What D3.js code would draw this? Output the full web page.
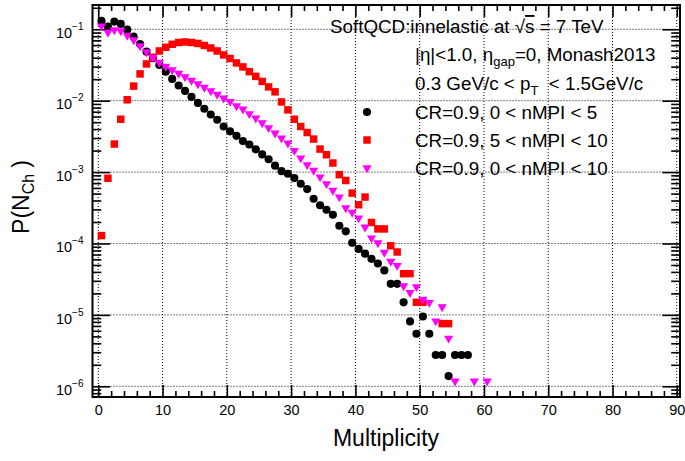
<!DOCTYPE html>
<html><head><meta charset="utf-8">
<script src="https://cdn.jsdelivr.net/npm/d3@7"></script>
<style>
body{margin:0;background:#fff}
svg{display:block}
text{font-family:"Liberation Sans",Arial,Helvetica,sans-serif;fill:#000}
</style>
</head><body>
<svg id="c" width="685" height="461"></svg>
<script>
// ---- data ----
const multiplicity = [0.5,1.5,2.5,3.5,4.5,5.5,6.5,7.5,8.5,9.5,10.5,11.5,12.5,13.5,14.5,15.5,16.5,17.5,18.5,19.5,
  20.5,21.5,22.5,23.5,24.5,25.5,26.5,27.5,28.5,29.5,30.5,31.5,32.5,33.5,34.5,35.5,36.5,37.5,38.5,39.5,
  40.5,41.5,42.5,43.5,44.5,45.5,46.5,47.5,48.5,49.5,50.5,51.5,52.5,53.5,54.5,55.5,56.5,57.5,58.5,59.5,60.5];

const seriesNames = ["CR=0.9, 0 < nMPI < 5","CR=0.9, 5 < nMPI < 10","CR=0.9, 0 < nMPI < 10"];

const pLow = [0.131,0.109,0.128,0.119,0.0988,0.0788,0.0623,0.0486,0.0393,0.0317,
  0.0255,0.0202,0.0163,0.0137,0.0113,0.0093,0.0077,0.0064,0.0054,0.00435,
  0.00372,0.00322,0.00272,0.00243,0.00208,0.00177,0.00151,0.00123,0.00103,0.000946,
  0.000824,0.000686,0.000578,0.000423,0.000343,0.000297,0.000253,0.000177,0.000148,0.000102,
  8.4e-5,7.2e-5,6.1e-5,5.25e-5,4.2e-5,2.72e-5,2.72e-5,1.5e-5,8.1e-6,5.44e-6,
  9.5e-6,5.44e-6,2.74e-6,2.74e-6,1.39e-6,2.74e-6,2.74e-6,2.74e-6];

const pMid = [1.29e-4,8.2e-4,2.47e-3,5.5e-3,0.0103,0.016,0.0237,0.0327,0.0406,0.0497,
  0.056,0.0617,0.0653,0.0664,0.0653,0.0633,0.0593,0.0547,0.0497,0.0437,
  0.039,0.0338,0.0297,0.0255,0.0219,0.0186,0.0156,0.0133,0.0096,0.00743,
  0.0055,0.00435,0.00358,0.0029,0.0021,0.00175,0.00134,0.00092,0.000763,0.000508,
  0.000349,0.000447,0.000197,0.00016,0.00016,9.3e-5,7.6e-5,3.78e-5,3.78e-5,1.5e-5,
  1.5e-5,null,null,7.55e-6,7.55e-6];

const pAll = [0.111,0.0902,0.0978,0.0947,0.0819,0.0709,0.0584,0.0481,0.0403,0.0343,
  0.0302,0.027,0.0241,0.0215,0.0192,0.0172,0.01535,0.0137,0.01225,0.01084,
  0.00971,0.00846,0.0076,0.00654,0.00569,0.00489,0.00417,0.00351,0.00299,0.00254,
  0.002005,0.00157,0.001265,0.001053,0.000851,0.000686,0.000553,0.000447,0.000314,0.000272,
  0.000227,0.000169,0.000119,0.000102,7.5e-5,5.6e-5,4.9e-5,2.54e-5,2.05e-5,2.47e-5,
  1.65e-5,1.49e-5,8.2e-6,1.29e-5,4.7e-6,1.18e-6,null,null,1.18e-6,null,1.18e-6];

const xTickLabels = [0,10,20,30,40,50,60,70,80,90];
const yDecades = [1e-6,1e-5,1e-4,1e-3,1e-2,1e-1];

// ---- layout ----
const svg = d3.select("#c");
const L = 92.5, R = 680, T = 5, B = 397;
const x = d3.scaleLinear().domain([-0.9, 90.5]).range([L, R]);
const y = d3.scaleLog().domain([Math.pow(10,-6.15), Math.pow(10,-0.66)]).range([B, T]);

svg.append("rect").attr("width",685).attr("height",461).attr("fill","#fff");

// grid
const grid = svg.append("g").attr("stroke","#000").attr("stroke-width",1).attr("stroke-dasharray","1,2");
grid.selectAll("line.gx").data(xTickLabels).join("line")
  .attr("x1",d=>x(d)).attr("x2",d=>x(d)).attr("y1",T).attr("y2",B);
grid.selectAll("line.gy").data(yDecades).join("line")
  .attr("x1",L).attr("x2",R).attr("y1",d=>y(d)).attr("y2",d=>y(d));

// minor tick values
const xMinor = d3.range(0, 91, 2).filter(v => v % 10 !== 0);
const yMinor = [];
for (let e = -7; e <= 0; e++) for (let k = 2; k <= 9; k++) {
  const v = k * Math.pow(10, e);
  if (v >= y.domain()[0] && v <= y.domain()[1]) yMinor.push(v);
}

function styleAxis(g){
  g.selectAll("path.domain").remove();
  g.selectAll(".tick line").attr("stroke","#000").attr("stroke-width",1.6);
}

// bottom
const gB = svg.append("g").attr("transform",`translate(0,${B})`)
  .call(d3.axisBottom(x).tickValues(xTickLabels).tickSize(-12).tickSizeOuter(0).tickPadding(8).tickFormat(d=>d));
styleAxis(gB);
gB.selectAll(".tick text").attr("font-size",14.5).attr("font-family","Liberation Sans, Arial, sans-serif").attr("fill","#000");
svg.append("g").attr("transform",`translate(0,${B})`)
  .call(d3.axisBottom(x).tickValues(xMinor).tickSize(-6).tickSizeOuter(0).tickFormat("")).call(styleAxis);
// top
svg.append("g").attr("transform",`translate(0,${T})`)
  .call(d3.axisTop(x).tickValues(xTickLabels).tickSize(-12).tickSizeOuter(0).tickFormat("")).call(styleAxis);
svg.append("g").attr("transform",`translate(0,${T})`)
  .call(d3.axisTop(x).tickValues(xMinor).tickSize(-6).tickSizeOuter(0).tickFormat("")).call(styleAxis);
// left
const gL = svg.append("g").attr("transform",`translate(${L},0)`)
  .call(d3.axisLeft(y).tickValues(yDecades).tickSize(-17.6).tickSizeOuter(0).tickPadding(9));
styleAxis(gL);
gL.selectAll(".tick text").each(function(d){
  const e = Math.round(Math.log10(d));
  const t = d3.select(this).text(null).attr("font-size",14.5).attr("dy","0.57em")
    .attr("font-family","Liberation Sans, Arial, sans-serif").attr("fill","#000");
  t.append("tspan").text("10");
  t.append("tspan").attr("font-size",10).attr("dy",-8).text("\u2212" + (-e));
});
svg.append("g").attr("transform",`translate(${L},0)`)
  .call(d3.axisLeft(y).tickValues(yMinor).tickSize(-8.8).tickSizeOuter(0).tickFormat("")).call(styleAxis);
// right
svg.append("g").attr("transform",`translate(${R},0)`)
  .call(d3.axisRight(y).tickValues(yDecades).tickSize(-17.6).tickSizeOuter(0).tickFormat("")).call(styleAxis);
svg.append("g").attr("transform",`translate(${R},0)`)
  .call(d3.axisRight(y).tickValues(yMinor).tickSize(-8.8).tickSizeOuter(0).tickFormat("")).call(styleAxis);

// frame
svg.append("rect").attr("x",L).attr("y",T).attr("width",R-L).attr("height",B-T)
  .attr("fill","none").attr("stroke","#000").attr("stroke-width",2);

// ---- markers ----
const series = [
  {vals:pLow, color:"#000000", type:d3.symbolCircle, size:52, rot:0},
  {vals:pMid, color:"#ff0000", type:d3.symbolSquare, size:56, rot:0},
  {vals:pAll, color:"#ff00ff", type:d3.symbolTriangle, size:36, rot:180}
];
series.forEach(s => {
  const pts = s.vals.map((v,i)=>({m:multiplicity[i], v})).filter(p => p.v != null);
  svg.append("g").selectAll("path").data(pts).join("path")
    .attr("d", d3.symbol().type(s.type).size(s.size))
    .attr("transform", p => `translate(${x(p.m)},${y(p.v)}) rotate(${s.rot})`)
    .attr("fill", s.color);
});

// ---- legend / labels ----
const fs = 18.8;
const t1 = svg.append("text").attr("x",330).attr("y",33).attr("font-size",fs);
t1.append("tspan").text("SoftQCD:innelastic at \u221A");
t1.append("tspan").attr("text-decoration","overline").text("s");
t1.append("tspan").text(" = 7 TeV");

const t2 = svg.append("text").attr("x",415).attr("y",61).attr("font-size",fs);
t2.append("tspan").text("|\u03B7|<1.0, \u03B7");
t2.append("tspan").attr("font-size",13).attr("dy",5).text("gap");
t2.append("tspan").attr("dy",-5).text("=0, Monash2013");

const t3 = svg.append("text").attr("x",415).attr("y",90).attr("font-size",fs);
t3.append("tspan").text("0.3 GeV/c < p");
t3.append("tspan").attr("font-size",13).attr("dy",5).text("T");
t3.append("tspan").attr("dy",-5).text("  < 1.5GeV/c").attr("xml:space","preserve");

const legY = [112, 140, 168];
series.forEach((s,i) => {
  svg.append("path").attr("d", d3.symbol().type(s.type).size(s.size))
    .attr("transform", `translate(367,${legY[i]}) rotate(${s.rot})`).attr("fill", s.color);
  svg.append("text").attr("x",415).attr("y",legY[i]+6.8).attr("font-size",fs).text(seriesNames[i]);
});

// axis titles
svg.append("text").attr("x",386).attr("y",446).attr("text-anchor","middle").attr("font-size",23).text("Multiplicity");
const yt = svg.append("text").attr("transform","translate(29,197) rotate(-90)").attr("text-anchor","middle").attr("font-size",23);
yt.append("tspan").text("P(N");
yt.append("tspan").attr("font-size",16).attr("dy",5).text("Ch");
yt.append("tspan").attr("dy",-5).attr("dx",6).text(")");
</script>
</body></html>
